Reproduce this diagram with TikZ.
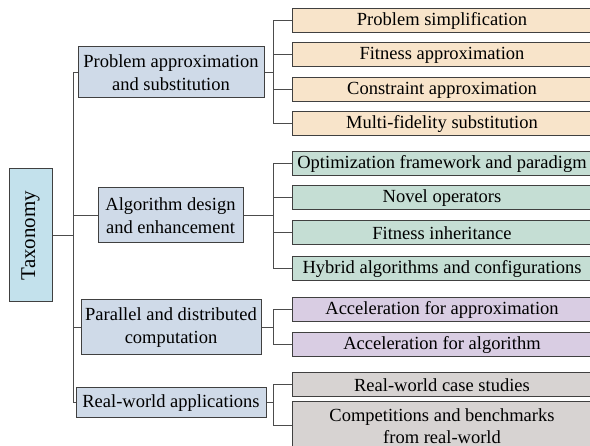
\documentclass[tikz,border=0pt]{standalone}
\usepackage{fontspec}
\setmainfont{Liberation Serif}
\usetikzlibrary{positioning}
\definecolor{taxblue}{RGB}{195,225,236}
\definecolor{catblue}{RGB}{207,218,232}
\definecolor{leaforange}{RGB}{248,228,202}
\definecolor{leafgreen}{RGB}{197,222,212}
\definecolor{leafpurple}{RGB}{217,205,227}
\definecolor{leafgray}{RGB}{215,211,210}
\tikzstyle{base} = [rectangle, draw=black!75, line width=1pt, text centered, align=center, inner sep=2pt, font=\fontsize{18.5}{23}\selectfont]
\tikzstyle{root} = [base, fill=taxblue, minimum width=43pt, minimum height=133pt]
\tikzstyle{cat} = [base, fill=catblue, minimum height=55pt]
\tikzstyle{leaf} = [base, minimum width=300pt, minimum height=24pt]
\tikzstyle{link} = [line width=1pt, draw=black!70]

\begin{document}
\begin{tikzpicture}[x=1pt, y=-1pt]
\useasboundingbox (0,0) rectangle (590,446);

\node (tax) [root] at (30.5,235.5) {\rotatebox{90}{\fontsize{21}{25}\selectfont Taxonomy}};

\node (pas) [cat, minimum width=186pt, minimum height=51pt] at (171,72.5) {Problem approximation\\and substitution};
\node (ade) [cat, minimum width=145pt] at (170.5,215.5) {Algorithm design\\and enhancement};
\node (pdc) [cat, minimum width=180pt] at (171,327.5) {Parallel and distributed\\computation};
\node (rwa) [cat, minimum width=190pt, minimum height=30pt] at (171,403) {Real-world applications};

\node (ps) [leaf, fill=leaforange] at (442,21) {Problem simplification};
\node (fa) [leaf, fill=leaforange] at (442,55) {Fitness approximation};
\node (ca) [leaf, fill=leaforange] at (442,90) {Constraint approximation};
\node (mfs) [leaf, fill=leaforange] at (442,124) {Multi-fidelity substitution};
\node (ofp) [leaf, fill=leafgreen] at (442,164) {Optimization framework and paradigm};
\node (no) [leaf, fill=leafgreen] at (442,198) {Novel operators};
\node (fi) [leaf, fill=leafgreen] at (442,233) {Fitness inheritance};
\node (hac) [leaf, fill=leafgreen] at (442,269) {Hybrid algorithms and configurations};
\node (aa) [leaf, fill=leafpurple] at (442,310) {Acceleration for approximation};
\node (aalg) [leaf, fill=leafpurple] at (442,345) {Acceleration for algorithm};
\node (rcs) [leaf, fill=leafgray] at (442,385) {Real-world case studies};
\node (cbr) [leaf, fill=leafgray, minimum height=48pt, font=\fontsize{18.5}{21.5}\selectfont] at (442,426) {Competitions and benchmarks\\from real-world};

% tree connectors
\coordinate (trunk) at (73,235.5);
\coordinate (bus) at (273,0);
\draw [link] (tax.east) -- (trunk);
\foreach \c in {pas,ade,pdc,rwa}
  \draw [link] (trunk) |- (\c.west);
\foreach \c/\l in {pas/ps,pas/fa,pas/ca,pas/mfs,ade/ofp,ade/no,ade/fi,ade/hac,pdc/aa,pdc/aalg,rwa/rcs,rwa/cbr}
  \draw [link] (\c.east) -- (\c.east -| bus) |- (\l.west);

\end{tikzpicture}
\end{document}
